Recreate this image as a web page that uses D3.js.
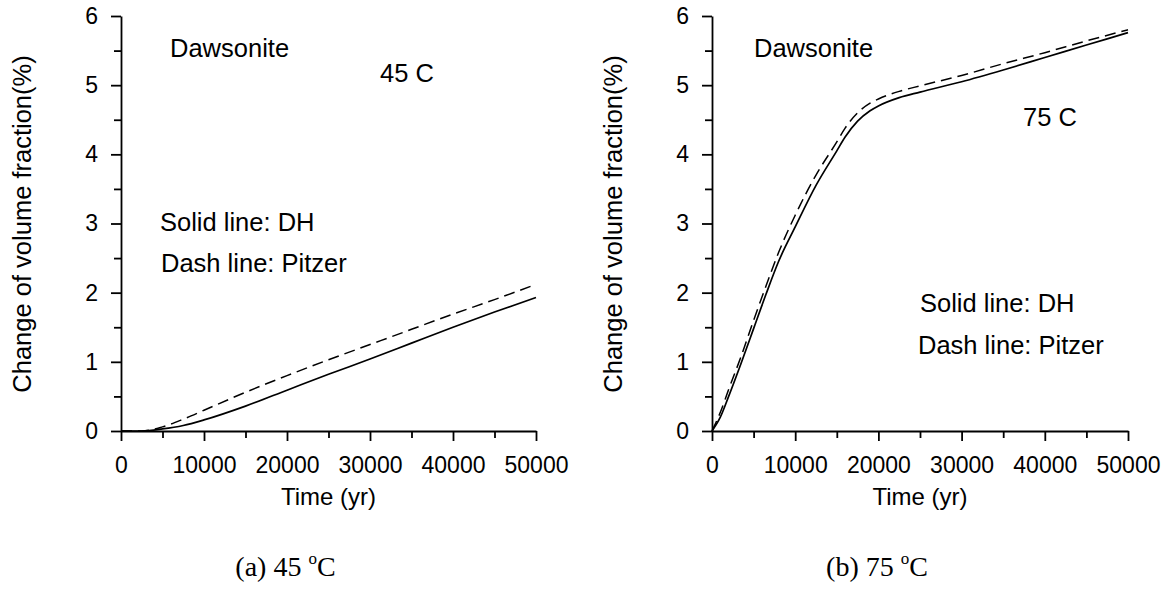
<!DOCTYPE html>
<html>
<head>
<meta charset="utf-8">
<script src="https://cdn.jsdelivr.net/npm/d3@7"></script>
<style>
  body { margin: 0; background: #fff; }
  svg { display: block; }
  text { font-family: "Liberation Sans", Arial, sans-serif; fill: #000; }
</style>
</head>
<body>
<div id="chart"></div>
<script>
// time axis (yr)
const years45 = [0, 2500, 5000, 7500, 10000, 15000, 20000, 25000, 30000, 35000, 40000, 45000, 50000];
const dh45 = [0, 0, 0.03, 0.08, 0.16, 0.36, 0.59, 0.82, 1.04, 1.27, 1.5, 1.72, 1.93];
const pitzer45 = [0, 0, 0.06, 0.17, 0.3, 0.56, 0.8, 1.03, 1.25, 1.47, 1.69, 1.9, 2.12];

const years75 = [0, 1000, 2000, 3500, 5000, 6500, 8000, 10000, 12500, 15000, 16000, 17500, 19000, 20000, 22500, 25000, 30000, 35000, 40000, 45000, 50000];
const dh75 = [0, 0.2, 0.5, 0.98, 1.48, 1.98, 2.45, 2.95, 3.55, 4.05, 4.25, 4.48, 4.63, 4.7, 4.82, 4.9, 5.05, 5.22, 5.4, 5.58, 5.76];
const pitzer75 = [0, 0.27, 0.6, 1.08, 1.6, 2.1, 2.58, 3.12, 3.7, 4.18, 4.38, 4.6, 4.74, 4.8, 4.91, 4.99, 5.14, 5.31, 5.47, 5.64, 5.8];

const xTicks = [0, 10000, 20000, 30000, 40000, 50000];
const yTicks = [0, 1, 2, 3, 4, 5, 6];

const panels = [
  { x0: 121, x1: 536, years: years45, dh: dh45, pitzer: pitzer45, caption: ['(a) 45 ', 'C'],
    notes: [
      { t: 'Dawsonite', x: 170, y: 57 },
      { t: '45 C', x: 380, y: 82 },
      { t: 'Solid line: DH', x: 160, y: 231 },
      { t: 'Dash line: Pitzer', x: 161, y: 272 }
    ] },
  { x0: 712, x1: 1128, years: years75, dh: dh75, pitzer: pitzer75, caption: ['(b) 75 ', 'C'],
    notes: [
      { t: 'Dawsonite', x: 754, y: 57 },
      { t: '75 C', x: 1023, y: 126 },
      { t: 'Solid line: DH', x: 920, y: 312 },
      { t: 'Dash line: Pitzer', x: 918, y: 354 }
    ] }
];

const W = 1165, H = 592;
const yTop = 16, yBottom = 431;
const fs = 23;    // tick labels
const fsNote = 25.5;

const svg = d3.select('#chart').append('svg')
  .attr('width', W)
  .attr('height', H);

const y = d3.scaleLinear().domain([0, 6]).range([yBottom, yTop]);

panels.forEach(p => {
  const x = d3.scaleLinear().domain([0, 50000]).range([p.x0, p.x1]);
  const g = svg.append('g');

  // y axis, minor ticks every 0.5
  const yAx = g.append('g')
    .attr('transform', `translate(${p.x0},0)`)
    .call(d3.axisLeft(y).tickValues(d3.range(0, 6.01, 0.5)).tickSizeOuter(0).tickPadding(17)
      .tickFormat(d => yTicks.includes(d) ? d : ''));
  yAx.selectAll('.tick line').attr('x2', d => yTicks.includes(d) ? -10 : -7);

  // x axis, minor ticks every 5000
  const xAx = g.append('g')
    .attr('transform', `translate(0,${yBottom})`)
    .call(d3.axisBottom(x).tickValues(d3.range(0, 50001, 5000)).tickSizeOuter(0).tickPadding(20)
      .tickFormat(d => xTicks.includes(d) ? d : ''));
  xAx.selectAll('.tick line').attr('y2', d => xTicks.includes(d) ? 10 : 7);

  g.selectAll('.domain, .tick line').attr('stroke', '#000').attr('stroke-width', 1.8);
  g.selectAll('.tick text').attr('font-size', fs).attr('font-family', '"Liberation Sans", Arial, sans-serif');

  const line = d3.line()
    .x(d => x(d[0]))
    .y(d => y(d[1]))
    .curve(d3.curveMonotoneX);

  g.append('path')
    .datum(p.years.map((t, i) => [t, p.dh[i]]))
    .attr('d', line)
    .attr('fill', 'none')
    .attr('stroke', '#000')
    .attr('stroke-width', 1.7);

  g.append('path')
    .datum(p.years.map((t, i) => [t, p.pitzer[i]]))
    .attr('d', line)
    .attr('fill', 'none')
    .attr('stroke', '#000')
    .attr('stroke-width', 1.5)
    .attr('stroke-dasharray', '11,6');

  // y label
  g.append('text')
    .attr('transform', `translate(${p.x0 - 90},224) rotate(-90)`)
    .attr('text-anchor', 'middle')
    .attr('font-size', fsNote)
    .text('Change of volume fraction(%)');

  // x label
  g.append('text')
    .attr('x', (p.x0 + p.x1) / 2)
    .attr('y', 505)
    .attr('text-anchor', 'middle')
    .attr('font-size', 24)
    .text('Time (yr)');

  g.selectAll('.note')
    .data(p.notes)
    .enter().append('text')
    .attr('class', 'note')
    .attr('x', d => d.x)
    .attr('y', d => d.y)
    .attr('font-size', fsNote)
    .text(d => d.t);

  // caption, serif with superscript degree
  const cap = g.append('text')
    .attr('x', (p.x0 + p.x1) / 2 - 43)
    .attr('y', 576)
    .attr('text-anchor', 'middle')
    .attr('font-size', 28)
    .style('font-family', '"Liberation Serif", "Times New Roman", serif');
  cap.append('tspan').text(p.caption[0]);
  cap.append('tspan').attr('font-size', 17).attr('dy', -12).text('o');
  cap.append('tspan').attr('dy', 12).text(p.caption[1]);
});
</script>
</body>
</html>
